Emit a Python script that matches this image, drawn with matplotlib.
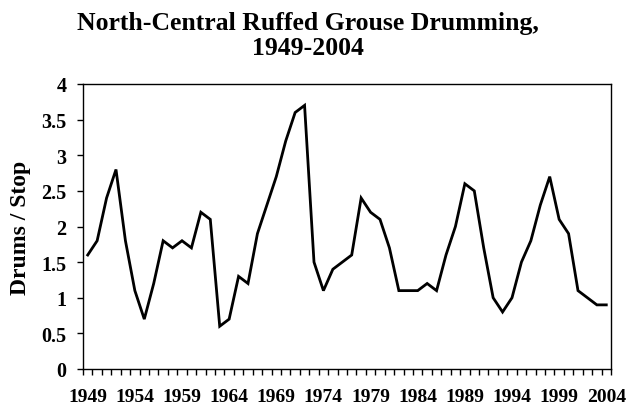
import numpy as np
import matplotlib.pyplot as plt

years = list(range(1949, 2005))
drums = [1.6, 1.8, 2.4, 2.8, 1.8, 1.1, 0.7, 1.2, 1.8, 1.7,
         1.8, 1.7, 2.2, 2.1, 0.6, 0.7, 1.3, 1.2, 1.9, 2.3,
         2.7, 3.2, 3.6, 3.7, 1.5, 1.1, 1.4, 1.5, 1.6, 2.4,
         2.2, 2.1, 1.7, 1.1, 1.1, 1.1, 1.2, 1.1, 1.6, 2.0,
         2.6, 2.5, 1.7, 1.0, 0.8, 1.0, 1.5, 1.8, 2.3, 2.7,
         2.1, 1.9, 1.1, 1.0, 0.9, 0.9]
yticks = [0, 0.5, 1, 1.5, 2, 2.5, 3, 3.5, 4]
ytick_labels = ["0", "0.5", "1", "1.5", "2", "2.5", "3", "3.5", "4"]

plt.rcParams.update({"font.family": "Liberation Serif", "font.weight": "bold"})
INK = "#000000"

fig = plt.figure(figsize=(6.26, 4.14), dpi=100)
ax = fig.add_axes([83 / 626, 1 - 370 / 414, (611 - 83) / 626, (370 - 85) / 414])

x = np.arange(len(years))
ax.plot(x, drums, color=INK, lw=2.0, solid_joinstyle="miter")

ax.set_xlim(-0.5, len(years) - 0.5)
ax.set_ylim(0, 4)

# category axis: ticks on the boundaries, labels every 5 years
ax.set_xticks(np.arange(-0.5, len(years), 1.0))
ax.set_xticklabels([])
ax.tick_params(axis="x", which="major", direction="out", length=4, width=1)
lab_idx = list(range(0, len(years), 5))
ax.set_xticks(lab_idx, minor=True)
ax.set_xticklabels([str(years[i]) for i in lab_idx], minor=True, fontsize=14, fontweight="bold")
ax.tick_params(axis="x", which="minor", length=0, pad=14)

ax.set_yticks(yticks)
ax.set_yticklabels(ytick_labels, fontsize=14.5, fontweight="bold")
ax.tick_params(axis="y", direction="out", length=4, width=1, pad=8)

for s in ax.spines.values():
    s.set_linewidth(1.0)

ax.set_ylabel("Drums / Stop", fontsize=17, fontweight="bold")
ax.yaxis.set_label_coords(-52 / 528, 0.5)

fig.text(308 / 626, 1 - 36 / 414, "North-Central Ruffed Grouse Drumming,\n1949-2004",
         ha="center", va="center", fontsize=18.5, fontweight="bold", linespacing=1.15)

fig.savefig("out.png", dpi=100)
